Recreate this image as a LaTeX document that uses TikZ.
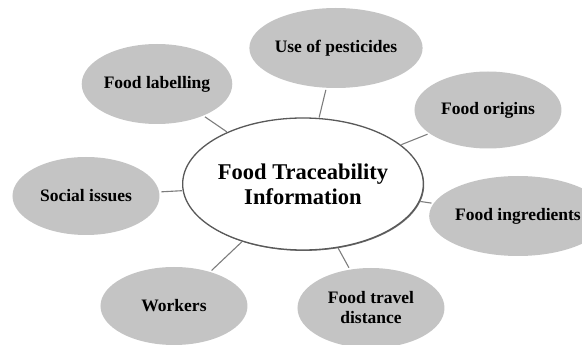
\documentclass[tikz,border=0pt]{standalone}
\usepackage{fontspec}
\setmainfont{Liberation Serif}
\usetikzlibrary{positioning, shapes, shadows}
\definecolor{topicgray}{RGB}{196,196,196}
\definecolor{spokegray}{RGB}{125,125,125}
\tikzset{
	every node/.style={
		align=center,
	},
}
\tikzstyle{hub} = [ellipse, draw=black!65, line width=1.3pt, fill=white, minimum width=240pt, minimum height=132pt, inner sep=0pt, font=\fontsize{22.5}{25}\selectfont\bfseries, drop shadow={shadow xshift=0.9pt, shadow yshift=-0.9pt, fill=black!70, opacity=0.8}]
\tikzstyle{topic} = [ellipse, draw=none, fill=topicgray, minimum width=147pt, minimum height=80pt, inner sep=0pt, font=\fontsize{17.5}{20}\selectfont\bfseries]
\tikzstyle{spoke} = [spokegray, line width=1.1pt, shorten <=0.5pt, shorten >=2pt]

\begin{document}
\begin{tikzpicture}[x=1pt, y=1pt]
    \useasboundingbox (-303,-161) rectangle (279,184);

    \node (hub) [hub] at (0,0) {Food Traceability\\Information};

    \node (pest) [topic] at (33,136) {Use of pesticides};
    \node (label) [topic] at (-146,100) {Food labelling};
    \node (origin) [topic, minimum height=77pt] at (185,74) {Food origins};
    \node (social) [topic, minimum height=78pt] at (-217,-12) {Social issues};
    \node (ingred) [topic] at (215,-32) {Food ingredients};
    \node (work) [topic, minimum height=78pt] at (-129,-122) {Workers};
    \node (travel) [topic] at (68,-124) {Food travel\\distance};

    % spokes out of the hub
    \foreach \t in {pest, label, origin, social, ingred, work, travel}
        \draw[spoke] (hub) -- (\t);
\end{tikzpicture}
\end{document}
